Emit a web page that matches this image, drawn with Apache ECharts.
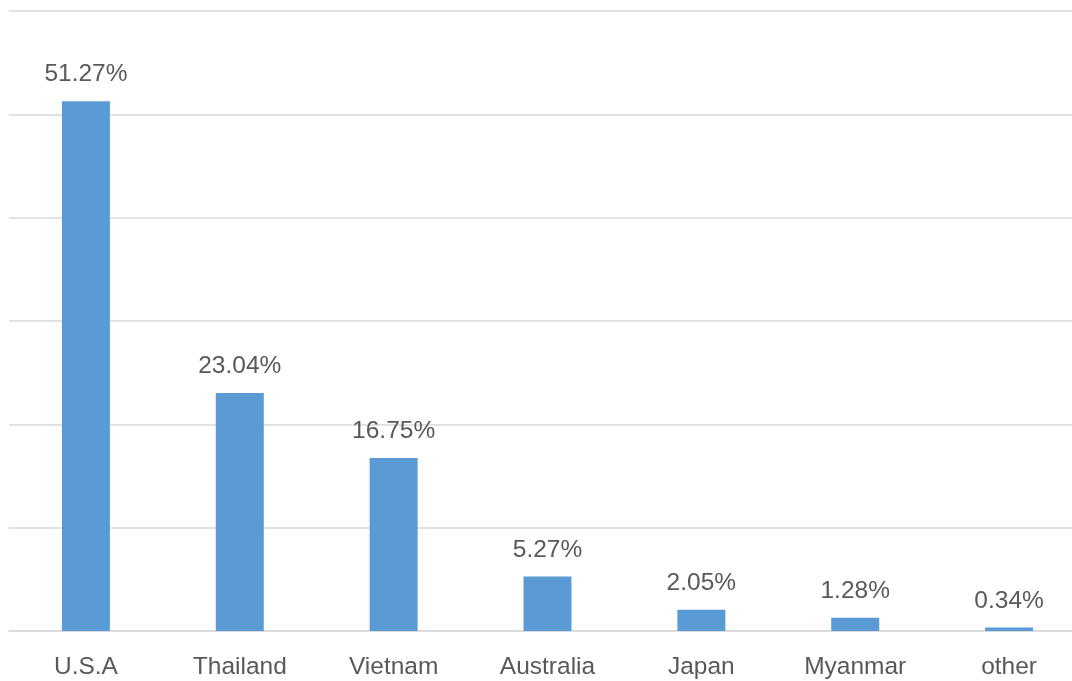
<!DOCTYPE html>
<html>
<head>
<meta charset="utf-8">
<script src="https://cdn.jsdelivr.net/npm/echarts@6/dist/echarts.min.js"></script>
<style>
  html, body { margin: 0; padding: 0; background: #fff; }
  #chart { width: 1072px; height: 681px; }
</style>
</head>
<body>
<div id="chart"></div>
<script>
// 来源国占比
const countries = ['U.S.A', 'Thailand', 'Vietnam', 'Australia', 'Japan', 'Myanmar', 'other']
const shares = [51.27, 23.04, 16.75, 5.27, 2.05, 1.28, 0.34]

const chart = echarts.init(document.getElementById('chart'))
const options = {
  backgroundColor: '#fff',
  animation: false,
  grid: {
    left: 9,
    right: -14,
    top: 11,
    bottom: 50,
    outerBoundsMode: 'none'
  },
  xAxis: {
    type: 'category',
    data: countries,
    axisTick: { show: false },
    axisLine: {
      lineStyle: { color: '#d9d9d9', width: 1.5 }
    },
    axisLabel: {
      color: '#595959',
      fontSize: 24.5,
      fontFamily: 'Liberation Sans',
      margin: 24
    }
  },
  yAxis: {
    type: 'value',
    min: 0,
    max: 60,
    interval: 10,
    axisLabel: { show: false },
    axisLine: { show: false },
    axisTick: { show: false },
    splitLine: {
      lineStyle: { color: '#d9d9d9', width: 1.5 }
    }
  },
  series: [
    {
      type: 'bar',
      data: shares,
      barWidth: 48,
      itemStyle: { color: '#5b9bd5' },
      label: {
        show: true,
        position: 'top',
        distance: 14,
        formatter: (p) => p.value.toFixed(2) + '%',
        color: '#595959',
        fontSize: 24.5,
        fontFamily: 'Liberation Sans'
      }
    }
  ]
}
chart.setOption(options, true)
</script>
</body>
</html>
